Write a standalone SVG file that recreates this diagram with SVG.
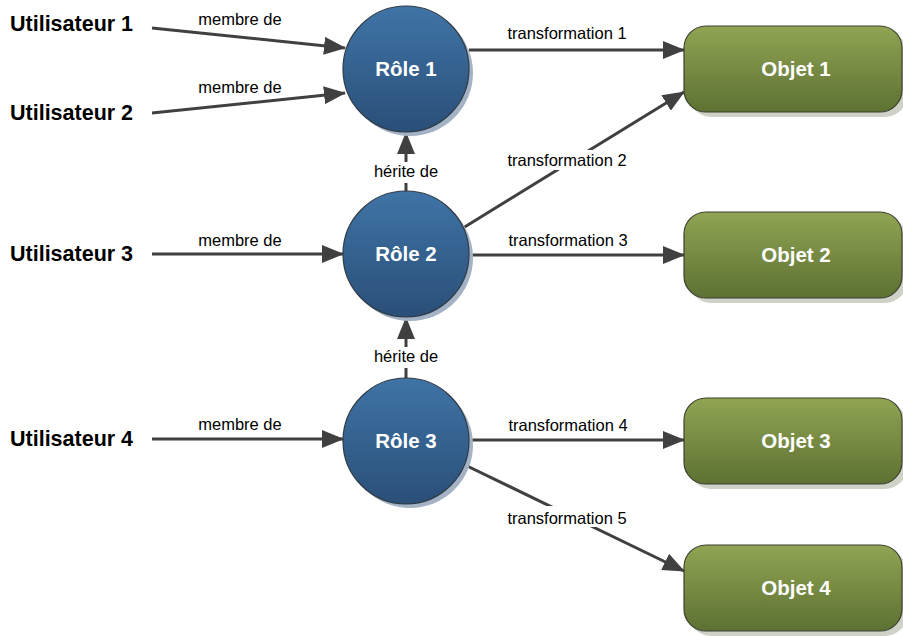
<svg xmlns="http://www.w3.org/2000/svg" width="903" height="636" viewBox="0 0 903 636">
  <style>
    .user { font-family: "Liberation Sans", Arial, sans-serif; font-weight: bold; font-size: 21.5px; fill: #000; }
    .lbl { font-family: "Liberation Sans", Arial, sans-serif; font-size: 16.5px; fill: #000; text-anchor: middle; }
    .inner { font-family: "Liberation Sans", Arial, sans-serif; font-weight: bold; font-size: 20.5px; fill: #fff; text-anchor: middle; }
    .role { fill: url(#roleFill); stroke: #2f3a46; stroke-width: 1.2; }
    .roleShadow { fill: #a3b2c4; }
    .obj { fill: url(#objFill); stroke: #3c4030; stroke-width: 1.2; }
    .objShadow { fill: #cfd2c6; }
    .edge { fill: none; stroke: #404040; stroke-width: 3; }
    .arrow { marker-end: url(#head); }
    .gap { fill: #fff; }
  </style>
  <defs>
    <linearGradient id="roleFill" x1="0" y1="0" x2="0" y2="1">
      <stop offset="0" stop-color="#3f74a6"/>
      <stop offset="1" stop-color="#2a4f78"/>
    </linearGradient>
    <linearGradient id="objFill" x1="0" y1="0" x2="0" y2="1">
      <stop offset="0" stop-color="#90a453"/>
      <stop offset="1" stop-color="#5d7133"/>
    </linearGradient>
    <marker id="head" viewBox="0 0 22 18" refX="21" refY="9" markerWidth="22" markerHeight="18" markerUnits="userSpaceOnUse" orient="auto">
      <path d="M0,0 L22,9 L0,18 Z" fill="#404040"/>
    </marker>
  </defs>

  <!-- connectors -->
  <g id="connectors">
    <line class="edge arrow" x1="152" y1="28" x2="345" y2="48"/>
    <line class="edge arrow" x1="152" y1="113" x2="345" y2="93"/>
    <line class="edge arrow" x1="152" y1="254" x2="343" y2="254"/>
    <line class="edge arrow" x1="152" y1="439" x2="343" y2="439"/>
    <line class="edge arrow" x1="406" y1="191" x2="406" y2="133"/>
    <line class="edge arrow" x1="406" y1="379" x2="406" y2="318"/>
    <line class="edge arrow" x1="469" y1="50" x2="684" y2="50"/>
    <line class="edge arrow" x1="463" y1="228" x2="684" y2="92"/>
    <line class="edge arrow" x1="469" y1="255" x2="684" y2="255"/>
    <line class="edge arrow" x1="469" y1="440" x2="684" y2="440"/>
    <line class="edge arrow" x1="463" y1="464" x2="684" y2="571"/>

    <!-- label backgrounds break the lines -->
    <rect class="gap" x="368" y="162" width="76" height="21"/>
    <rect class="gap" x="368" y="347" width="76" height="21"/>
    <rect class="gap" x="498" y="150" width="138" height="20"/>
    <rect class="gap" x="498" y="506" width="138" height="21"/>

    <text class="lbl" x="240" y="25">membre de</text>
    <text class="lbl" x="240" y="93">membre de</text>
    <text class="lbl" x="240" y="246">membre de</text>
    <text class="lbl" x="240" y="430">membre de</text>
    <text class="lbl" x="406" y="177">hérite de</text>
    <text class="lbl" x="406" y="362">hérite de</text>
    <text class="lbl" x="567" y="39">transformation 1</text>
    <text class="lbl" x="567" y="166">transformation 2</text>
    <text class="lbl" x="568" y="246">transformation 3</text>
    <text class="lbl" x="568" y="431">transformation 4</text>
    <text class="lbl" x="567" y="524">transformation 5</text>
  </g>

  <!-- users -->
  <g id="user1"><text class="user" x="10" y="31">Utilisateur 1</text></g>
  <g id="user2"><text class="user" x="10" y="120">Utilisateur 2</text></g>
  <g id="user3"><text class="user" x="10" y="261">Utilisateur 3</text></g>
  <g id="user4"><text class="user" x="10" y="446">Utilisateur 4</text></g>

  <!-- roles -->
  <g id="role1">
    <circle class="roleShadow" cx="410" cy="73" r="63"/>
    <circle class="role" cx="406" cy="69" r="63"/>
    <text class="inner" x="406" y="76">Rôle 1</text>
  </g>
  <g id="role2">
    <circle class="roleShadow" cx="410" cy="258" r="63"/>
    <circle class="role" cx="406" cy="254" r="63"/>
    <text class="inner" x="406" y="261">Rôle 2</text>
  </g>
  <g id="role3">
    <circle class="roleShadow" cx="410" cy="445" r="63"/>
    <circle class="role" cx="406" cy="441" r="63"/>
    <text class="inner" x="406" y="448">Rôle 3</text>
  </g>

  <!-- objects -->
  <g id="obj1">
    <rect class="objShadow" x="689" y="31" width="218" height="86" rx="22"/>
    <rect class="obj" x="684" y="26" width="218" height="86" rx="22"/>
    <text class="inner" x="796" y="76">Objet 1</text>
  </g>
  <g id="obj2">
    <rect class="objShadow" x="689" y="217" width="218" height="86" rx="22"/>
    <rect class="obj" x="684" y="212" width="218" height="86" rx="22"/>
    <text class="inner" x="796" y="262">Objet 2</text>
  </g>
  <g id="obj3">
    <rect class="objShadow" x="689" y="403" width="218" height="86" rx="22"/>
    <rect class="obj" x="684" y="398" width="218" height="86" rx="22"/>
    <text class="inner" x="796" y="448">Objet 3</text>
  </g>
  <g id="obj4">
    <rect class="objShadow" x="689" y="550" width="218" height="86" rx="22"/>
    <rect class="obj" x="684" y="545" width="218" height="86" rx="22"/>
    <text class="inner" x="796" y="595">Objet 4</text>
  </g>
</svg>
